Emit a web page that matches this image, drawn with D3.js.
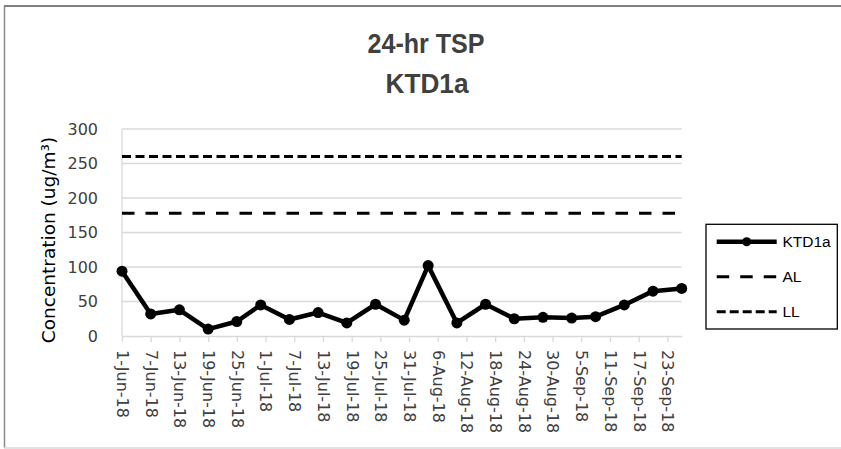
<!DOCTYPE html>
<html>
<head>
<meta charset="utf-8">
<script src="https://cdn.jsdelivr.net/npm/d3@7"></script>
<style>
  body { margin: 0; background: #fff; }
</style>
</head>
<body>
<div id="chart"></div>
<script>
// sampling dates and 24-hr TSP values
var dates = ["1-Jun-18", "7-Jun-18", "13-Jun-18", "19-Jun-18", "25-Jun-18", "30-Jun-18",
             "6-Jul-18", "12-Jul-18", "18-Jul-18", "24-Jul-18", "30-Jul-18",
             "4-Aug-18", "10-Aug-18", "16-Aug-18", "22-Aug-18", "28-Aug-18",
             "3-Sep-18", "8-Sep-18", "14-Sep-18", "20-Sep-18", "26-Sep-18"];
var tsp = [94, 32, 38, 10, 21, 45, 24, 34, 19, 46, 23, 102, 19, 46, 25, 27, 26, 28, 45, 65, 69];

var actionLevel = 178;
var limitLevel = 260;

var tickLabels = ["1-Jun-18", "7-Jun-18", "13-Jun-18", "19-Jun-18", "25-Jun-18", "1-Jul-18",
                  "7-Jul-18", "13-Jul-18", "19-Jul-18", "25-Jul-18", "31-Jul-18", "6-Aug-18",
                  "12-Aug-18", "18-Aug-18", "24-Aug-18", "30-Aug-18", "5-Sep-18", "11-Sep-18",
                  "17-Sep-18", "23-Sep-18"];
var yTicks = [0, 50, 100, 150, 200, 250, 300];

var legendItems = ["KTD1a", "AL", "LL"];

var parse = d3.timeParse("%d-%b-%y");
var data = dates.map(function(d, i) { return {date: parse(d), v: tsp[i]}; });

var width = 841, height = 449;
var plotLeft = 122, plotRight = 681.7, plotTop = 129, plotBottom = 336;

var svg = d3.select("#chart").append("svg")
    .attr("width", width)
    .attr("height", height);

svg.append("rect").attr("width", width).attr("height", height).attr("fill", "#fff");

// chart border (right side falls outside the picture)
svg.append("line").attr("x1", 4.5).attr("x2", 4.5).attr("y1", 6).attr("y2", 448)
    .attr("stroke", "#8a8a8a").attr("stroke-width", 1.5);
svg.append("line").attr("x1", 4).attr("x2", 841).attr("y1", 6).attr("y2", 6)
    .attr("stroke", "#7f7f7f").attr("stroke-width", 1.8);
svg.append("line").attr("x1", 4).attr("x2", 841).attr("y1", 448).attr("y2", 448)
    .attr("stroke", "#d9d9d9").attr("stroke-width", 1.5);

var x = d3.scaleTime()
    .domain(d3.extent(data, function(d) { return d.date; }))
    .range([plotLeft, plotRight]);
var y = d3.scaleLinear().domain([0, 300]).range([plotBottom, plotTop]);

// gridlines
svg.append("g")
  .selectAll("line")
  .data(yTicks.slice(1))
  .enter().append("line")
    .attr("x1", plotLeft).attr("x2", plotRight)
    .attr("y1", function(d) { return y(d); })
    .attr("y2", function(d) { return y(d); })
    .attr("stroke", "#d9d9d9").attr("stroke-width", 1.3);

// vertical axis line
svg.append("line").attr("x1", plotLeft).attr("x2", plotLeft).attr("y1", plotTop).attr("y2", plotBottom)
    .attr("stroke", "#d9d9d9").attr("stroke-width", 1.3);

// y axis labels
var yAxis = svg.append("g")
    .attr("transform", "translate(" + plotLeft + ",0)")
    .call(d3.axisLeft(y).tickValues(yTicks).tickSize(0).tickPadding(24));
yAxis.select(".domain").remove();
yAxis.selectAll("text")
    .style("font-family", "DejaVu Sans")
    .style("font-size", "16px")
    .attr("fill", "#404040");

// x axis
var xAxis = svg.append("g")
    .attr("transform", "translate(0," + plotBottom + ")")
    .call(d3.axisBottom(x)
        .tickValues(tickLabels.map(parse))
        .tickFormat(function(d, i) { return tickLabels[i]; })
        .tickSizeInner(6).tickSizeOuter(0));
xAxis.select(".domain").attr("stroke", "#d9d9d9").attr("stroke-width", 1.5);
xAxis.selectAll(".tick line").attr("stroke", "#d9d9d9").attr("stroke-width", 1.3);
xAxis.selectAll("text")
    .style("font-family", "DejaVu Sans")
    .style("font-size", "16px")
    .attr("fill", "#404040")
    .attr("text-anchor", "start")
    .attr("transform", "rotate(90)")
    .attr("x", 14)
    .attr("y", 0)
    .attr("dy", "0.35em");

// reference lines
svg.append("line")
    .attr("x1", plotLeft).attr("x2", plotRight)
    .attr("y1", y(actionLevel)).attr("y2", y(actionLevel))
    .attr("stroke", "#000").attr("stroke-width", 3)
    .attr("stroke-dasharray", "12.5,11");

svg.append("line")
    .attr("x1", plotLeft).attr("x2", plotRight)
    .attr("y1", y(limitLevel)).attr("y2", y(limitLevel))
    .attr("stroke", "#000").attr("stroke-width", 3)
    .attr("stroke-dasharray", "9,4.5");

// the series
var line = d3.line()
    .x(function(d) { return x(d.date); })
    .y(function(d) { return y(d.v); });

svg.append("path")
    .datum(data)
    .attr("fill", "none")
    .attr("stroke", "#000")
    .attr("stroke-width", 4.5)
    .attr("stroke-linejoin", "round")
    .attr("d", line);

svg.append("g")
  .selectAll("circle")
  .data(data)
  .enter().append("circle")
    .attr("cx", function(d) { return x(d.date); })
    .attr("cy", function(d) { return y(d.v); })
    .attr("r", 5.5)
    .attr("fill", "#000");

// titles
svg.append("text")
    .attr("x", 426).attr("y", 53)
    .attr("text-anchor", "middle")
    .attr("textLength", 117)
    .attr("lengthAdjust", "spacingAndGlyphs")
    .style("font-family", "Liberation Sans")
    .style("font-size", "28px")
    .style("font-weight", "bold")
    .attr("fill", "#404040")
    .text("24-hr TSP");

svg.append("text")
    .attr("x", 427).attr("y", 93)
    .attr("text-anchor", "middle")
    .attr("textLength", 83)
    .attr("lengthAdjust", "spacingAndGlyphs")
    .style("font-family", "Liberation Sans")
    .style("font-size", "28px")
    .style("font-weight", "bold")
    .attr("fill", "#404040")
    .text("KTD1a");

svg.append("text")
    .attr("transform", "translate(55,240) rotate(-90)")
    .attr("text-anchor", "middle")
    .style("font-family", "DejaVu Sans")
    .style("font-size", "18.5px")
    .attr("fill", "#000")
    .text("Concentration (ug/m³)");

// legend
var legend = svg.append("g");
legend.append("rect")
    .attr("x", 706).attr("y", 224.3)
    .attr("width", 131.3).attr("height", 104.7)
    .attr("fill", "#fff")
    .attr("stroke", "#000").attr("stroke-width", 1.3);

var dashes = [null, "12.5,11", "9,4"];
legendItems.forEach(function(name, i) {
  var ly = 241.7 + i * 35;
  legend.append("line")
      .attr("x1", 716.7).attr("x2", 776.7)
      .attr("y1", ly).attr("y2", ly)
      .attr("stroke", "#000")
      .attr("stroke-width", i == 0 ? 4.5 : 3)
      .attr("stroke-dasharray", dashes[i]);
  if (i == 0) {
    legend.append("circle").attr("cx", 746.7).attr("cy", ly).attr("r", 4.5).attr("fill", "#000");
  }
  legend.append("text")
      .attr("x", 782.5).attr("y", ly + 5.3)
      .style("font-family", "Liberation Sans")
      .style("font-size", "15.5px")
      .attr("fill", "#000")
      .text(name);
});
</script>
</body>
</html>
